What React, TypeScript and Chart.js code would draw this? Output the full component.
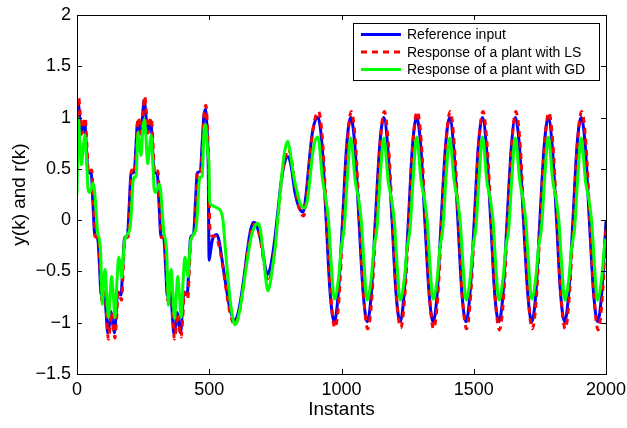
import React, { useEffect, useRef } from 'react';
import { Chart, registerables } from 'chart.js';

Chart.register(...registerables);

// ---------- data ----------
const xTicks = [0, 500, 1000, 1500, 2000];
const yTicks = [-1.5, -1, -0.5, 0, 0.5, 1, 1.5, 2];
const legendLabels = ['Reference input', 'Response of a plant with LS', 'Response of a plant with GD'];
const xTitle = 'Instants';
const yTitle = 'y(k) and r(k)';

// Reference input r(k)  [instant, value]
const refPoints: [number, number][] = [
  [0, 1.05], [4, 1.15], [10.3, 1.01], [16.5, 0.84], [22.8, 0.91], [29, 0.96], [35.3, 0.72], [41.5, 0.47], [47.8, 0.46], [54, 0.45],
  [60.3, 0.16], [66.5, -0.13], [72.8, -0.16], [79, -0.19], [85.3, -0.46], [91.5, -0.73], [97.8, -0.72], [104, -0.7], [110.3, -0.91], [116.5, -1.1],
  [122.8, -1.01], [129, -0.89], [135.3, -1.01], [141.5, -1.1], [147.8, -0.91], [154, -0.7], [160.3, -0.72], [166.5, -0.73], [172.8, -0.46], [179, -0.19],
  [185.3, -0.16], [191.5, -0.13], [197.8, 0.16], [204, 0.45], [210.3, 0.46], [216.5, 0.47], [222.8, 0.72], [229, 0.96], [235.3, 0.91], [241.5, 0.84],
  [247.8, 1.01], [254, 1.17], [260.3, 1.03], [266.5, 0.85], [272.8, 0.92], [279, 0.97], [285.3, 0.72], [291.5, 0.47], [297.8, 0.46], [304, 0.44],
  [310.3, 0.15], [316.5, -0.14], [322.8, -0.16], [329, -0.19], [335.3, -0.47], [341.5, -0.74], [347.8, -0.72], [354, -0.7], [360.3, -0.92], [366.5, -1.11],
  [372.8, -1.02], [379, -0.9], [385.3, -1.02], [391.5, -1.1], [397.8, -0.91], [404, -0.7], [410.3, -0.72], [416.5, -0.73], [422.8, -0.46], [429, -0.18],
  [435.3, -0.15], [441.5, -0.12], [447.8, 0.17], [454, 0.45], [460.3, 0.47], [466.5, 0.48], [472.8, 0.73], [479, 1.0], [485.3, 1.08], [491.5, 0.9],
  [496, 0.55], [499.5, -0.39], [505, -0.3], [512, -0.19], [520, -0.15], [528, -0.14], [537, -0.2], [548, -0.38], [562, -0.62], [576, -0.84],
  [588, -0.95], [596, -0.98], [604, -0.95], [616, -0.82], [630, -0.58], [644, -0.3], [656, -0.1], [668, -0.02], [678, -0.04], [690, -0.15],
  [700, -0.26], [711, -0.45], [721, -0.53], [732, -0.45], [748, -0.18], [760, 0.1], [772, 0.38], [786, 0.57], [798, 0.62], [810, 0.52],
  [824, 0.27], [840, 0.12], [855, 0.08], [866, 0.25], [876, 0.52], [887, 0.8], [898, 0.95],
  [911, 1.0], [927, 0.71], [942, 0.0], [957, -0.71], [973, -0.99], [988, -0.71], [1004, 0.0], [1019, 0.71],
  [1035, 1.0], [1051, 0.71], [1066, 0.0], [1082, -0.71], [1097, -0.99], [1113, -0.71], [1128, 0.0], [1144, 0.71],
  [1160, 1.0], [1175, 0.71], [1191, 0.0], [1206, -0.71], [1222, -0.99], [1237, -0.71], [1253, 0.0], [1268, 0.71],
  [1284, 1.0], [1300, 0.71], [1315, 0.0], [1331, -0.71], [1346, -0.99], [1362, -0.71], [1377, 0.0], [1393, 0.71],
  [1409, 1.0], [1424, 0.71], [1440, 0.0], [1455, -0.71], [1471, -0.99], [1486, -0.71], [1502, 0.0], [1517, 0.71],
  [1533, 1.0], [1548, 0.71], [1564, 0.0], [1579, -0.71], [1595, -0.99], [1611, -0.71], [1626, 0.0], [1642, 0.71],
  [1657, 1.0], [1673, 0.71], [1688, 0.0], [1704, -0.71], [1719, -0.99], [1735, -0.71], [1750, 0.0], [1766, 0.71],
  [1782, 1.0], [1797, 0.71], [1813, 0.0], [1828, -0.71], [1844, -0.99], [1859, -0.71], [1875, 0.0], [1890, 0.71],
  [1906, 1.0], [1922, 0.71], [1937, 0.0], [1953, -0.71], [1968, -0.99], [1984, -0.71], [2000, -0.01],
];

// Response of a plant with LS  [instant, value]
const lsPoints: [number, number][] = [
  [0, 1.0], [6, 1.2], [12.3, 1.03], [18.5, 0.84], [24.8, 0.95], [31, 1.0], [37.3, 0.74], [43.5, 0.46], [49.8, 0.48], [56, 0.49],
  [62.3, 0.16], [68.5, -0.16], [74.8, -0.17], [81, -0.17], [87.3, -0.48], [93.5, -0.78], [99.8, -0.75], [106, -0.7], [112.3, -0.95], [118.5, -1.16],
  [124.8, -1.05], [131, -0.9], [137.3, -1.05], [143.5, -1.15], [149.8, -0.95], [156, -0.7], [162.3, -0.75], [168.5, -0.78], [174.8, -0.48], [181, -0.17],
  [187.3, -0.17], [193.5, -0.16], [199.8, 0.16], [206, 0.49], [212.3, 0.48], [218.5, 0.46], [224.8, 0.74], [231, 1.0], [237.3, 0.95], [243.5, 0.84],
  [249.8, 1.04], [256, 1.21], [262.3, 1.05], [268.5, 0.85], [274.8, 0.96], [281, 1.0], [287.3, 0.75], [293.5, 0.46], [299.8, 0.48], [306, 0.48],
  [312.3, 0.15], [318.5, -0.17], [324.8, -0.17], [331, -0.17], [337.3, -0.49], [343.5, -0.79], [349.8, -0.75], [356, -0.7], [362.3, -0.96], [368.5, -1.16],
  [374.8, -1.05], [381, -0.91], [387.3, -1.05], [393.5, -1.14], [399.8, -0.95], [406, -0.7], [412.3, -0.75], [418.5, -0.77], [424.8, -0.48], [431, -0.16],
  [437.3, -0.16], [443.5, -0.14], [449.8, 0.17], [456, 0.49], [462.3, 0.49], [468.5, 0.48], [474.8, 0.76], [481, 1.04], [487.3, 1.12], [493.5, 0.88],
  [498, 0.45], [502, -0.05], [507, -0.14], [515, -0.16], [525, -0.16], [536, -0.24], [550, -0.43], [564, -0.68], [578, -0.9], [590, -1.0],
  [598, -1.02], [606, -0.98], [618, -0.84], [632, -0.58], [646, -0.3], [658, -0.12], [670, -0.04], [680, -0.05], [692, -0.17], [704, -0.37],
  [715, -0.54], [723, -0.6], [734, -0.52], [750, -0.22], [762, 0.08], [774, 0.4], [788, 0.62], [800, 0.69], [812, 0.57], [826, 0.3],
  [842, 0.1], [857, 0.04], [868, 0.22], [878, 0.52], [889, 0.82], [900, 0.99],
  [913, 1.06], [929, 0.75], [944, 0.0], [960, -0.75], [975, -1.05], [991, -0.75], [1006, 0.0], [1022, 0.75],
  [1037, 1.06], [1053, 0.75], [1068, 0.0], [1084, -0.75], [1099, -1.06], [1115, -0.75], [1130, 0.0], [1146, 0.75],
  [1162, 1.06], [1177, 0.75], [1193, 0.0], [1208, -0.75], [1224, -1.05], [1239, -0.75], [1255, 0.0], [1270, 0.75],
  [1286, 1.06], [1302, 0.75], [1317, 0.0], [1333, -0.75], [1348, -1.06], [1364, -0.75], [1379, 0.0], [1395, 0.75],
  [1411, 1.06], [1426, 0.75], [1442, 0.0], [1457, -0.75], [1473, -1.06], [1488, -0.75], [1504, 0.0], [1519, 0.75],
  [1535, 1.06], [1550, 0.75], [1566, 0.0], [1581, -0.75], [1597, -1.07], [1613, -0.75], [1628, 0.0], [1644, 0.75],
  [1659, 1.06], [1675, 0.75], [1690, 0.0], [1706, -0.75], [1721, -1.06], [1737, -0.75], [1752, 0.0], [1768, 0.75],
  [1784, 1.05], [1799, 0.75], [1815, 0.0], [1830, -0.75], [1846, -1.06], [1861, -0.75], [1877, 0.0], [1892, 0.75],
  [1908, 1.06], [1924, 0.75], [1939, 0.0], [1955, -0.75], [1970, -1.07], [1986, -0.75], [2000, -0.05],
];

// Response of a plant with GD  [instant, value]
const gdPoints: [number, number][] = [
  [0, 0.25], [5, 0.99], [11, 0.75], [17, 0.54], [24, 0.72], [30, 0.83], [36, 0.6], [42, 0.3], [48, 0.27], [54, 0.3],
  [60, 0.36], [66, 0.3], [72, 0.1], [78, -0.12], [84, -0.18], [89, -0.3], [96, -0.82], [101, -0.6], [106, -0.48], [112, -0.7],
  [119, -0.95], [125, -0.75], [131, -0.55], [137, -0.72], [144, -0.95], [151, -0.6], [158, -0.36], [164, -0.45], [169, -0.56], [174, -0.4],
  [179, -0.22], [186, -0.16], [192, -0.13], [200, -0.08], [206, 0.1], [212, 0.38], [218, 0.42], [223, 0.42], [231, 0.86], [236, 0.75],
  [242, 0.63], [248, 0.85], [255, 0.98], [261, 0.8], [267, 0.55], [274, 0.7], [280, 0.83], [286, 0.6], [292, 0.3], [298, 0.27],
  [304, 0.3], [310, 0.35], [316, 0.3], [322, 0.1], [328, -0.12], [334, -0.19], [339, -0.3], [346, -0.83], [351, -0.6], [356, -0.48],
  [362, -0.7], [369, -0.96], [375, -0.75], [381, -0.55], [387, -0.72], [394, -0.95], [401, -0.6], [408, -0.36], [414, -0.45], [419, -0.55],
  [424, -0.4], [429, -0.22], [436, -0.16], [442, -0.13], [450, -0.08], [456, 0.1], [462, 0.38], [468, 0.42], [473, 0.43], [481, 0.9],
  [486, 0.93], [491, 0.78], [496, 0.62], [499, 0.55], [501, 0.2], [507, 0.15], [520, 0.13], [535, 0.11], [545, 0.08], [552, 0.0],
  [560, -0.25], [570, -0.55], [580, -0.8], [590, -0.97], [598, -1.02], [606, -0.98], [618, -0.84], [632, -0.6], [646, -0.35], [660, -0.15],
  [672, -0.06], [684, -0.03], [694, -0.1], [705, -0.35], [714, -0.58], [722, -0.69], [730, -0.62], [740, -0.45], [750, -0.25], [760, 0.05],
  [770, 0.32], [780, 0.58], [789, 0.72], [797, 0.77], [806, 0.66], [818, 0.45], [830, 0.3], [843, 0.17], [860, 0.12], [870, 0.18],
  [880, 0.38], [890, 0.63], [900, 0.77],
  [911, 0.81], [928, 0.4], [941, 0.2], [951, 0.0], [961, -0.42], [973, -0.77], [989, -0.56], [999, -0.27], [1010, -0.08], [1023, 0.45],
  [1035, 0.8], [1052, 0.38], [1065, 0.2], [1075, -0.01], [1085, -0.42], [1097, -0.78], [1113, -0.55], [1123, -0.26], [1134, -0.08], [1147, 0.45],
  [1160, 0.8], [1177, 0.37], [1190, 0.19], [1200, -0.02], [1210, -0.43], [1222, -0.78], [1238, -0.56], [1248, -0.27], [1259, -0.09], [1272, 0.45],
  [1284, 0.81], [1301, 0.38], [1314, 0.2], [1324, -0.01], [1334, -0.42], [1346, -0.77], [1362, -0.56], [1372, -0.27], [1383, -0.08], [1396, 0.45],
  [1409, 0.8], [1426, 0.38], [1439, 0.19], [1449, -0.02], [1459, -0.42], [1471, -0.78], [1487, -0.55], [1497, -0.26], [1508, -0.08], [1521, 0.45],
  [1533, 0.81], [1550, 0.37], [1563, 0.2], [1573, -0.01], [1583, -0.43], [1595, -0.78], [1611, -0.56], [1621, -0.27], [1632, -0.09], [1645, 0.45],
  [1657, 0.8], [1674, 0.38], [1687, 0.19], [1697, -0.02], [1707, -0.42], [1719, -0.77], [1735, -0.55], [1745, -0.26], [1756, -0.08], [1769, 0.45],
  [1782, 0.81], [1799, 0.38], [1812, 0.2], [1822, -0.01], [1832, -0.42], [1844, -0.78], [1860, -0.56], [1870, -0.27], [1881, -0.09], [1894, 0.45],
  [1906, 0.8], [1923, 0.37], [1936, 0.19], [1946, -0.02], [1956, -0.43], [1968, -0.78], [1984, -0.55], [1994, -0.26], [2000, -0.18],
];

const seriesColors = ['#0000ff', '#ff0000', '#00ff00'];

// ---------- drawing ----------
const FONT = '"Liberation Sans", Arial, Helvetica, sans-serif';

const fmt = (v: number) => (v < 0 ? '\u2212' + String(Math.abs(v)) : String(v));
const toXY = (pts: [number, number][]) => pts.map(([x, y]) => ({ x, y }));

const framePlugin = {
  id: 'matlabFrame',
  afterDraw(chart: any) {
    const { ctx, chartArea: a, scales } = chart;
    ctx.save();
    // box
    ctx.strokeStyle = '#000';
    ctx.lineWidth = 1;
    ctx.setLineDash([]);
    ctx.strokeRect(Math.round(a.left) + 0.5, Math.round(a.top) + 0.5, Math.round(a.right - a.left), Math.round(a.bottom - a.top));
    // inward ticks on all sides
    const tl = 5;
    ctx.beginPath();
    xTicks.forEach((v) => {
      const px = Math.round(scales.x.getPixelForValue(v)) + 0.5;
      ctx.moveTo(px, a.bottom); ctx.lineTo(px, a.bottom - tl);
      ctx.moveTo(px, a.top); ctx.lineTo(px, a.top + tl);
    });
    yTicks.forEach((v) => {
      const py = Math.round(scales.y.getPixelForValue(v)) + 0.5;
      ctx.moveTo(a.left, py); ctx.lineTo(a.left + tl, py);
      ctx.moveTo(a.right, py); ctx.lineTo(a.right - tl, py);
    });
    ctx.stroke();

    // legend box (top-right, inside axes)
    const lw = 246, lh = 57;
    const lx = Math.round(a.right - 7 - lw), ly = Math.round(a.top + 8);
    ctx.fillStyle = '#fff';
    ctx.fillRect(lx, ly, lw, lh);
    ctx.strokeStyle = '#000';
    ctx.lineWidth = 1;
    ctx.strokeRect(lx + 0.5, ly + 0.5, lw, lh);
    ctx.font = `14px ${FONT}`;
    ctx.textBaseline = 'middle';
    ctx.textAlign = 'left';
    legendLabels.forEach((label, i) => {
      const yy = ly + 11.5 + i * 17.5;
      ctx.beginPath();
      ctx.strokeStyle = seriesColors[i];
      ctx.lineWidth = 3;
      ctx.setLineDash(i === 1 ? [6, 5] : []);
      ctx.moveTo(lx + 8, yy);
      ctx.lineTo(lx + 48, yy);
      ctx.stroke();
      ctx.setLineDash([]);
      ctx.fillStyle = '#000';
      ctx.fillText(label, lx + 54, yy + 1);
    });

    // axis titles
    ctx.fillStyle = '#000';
    ctx.font = `19px ${FONT}`;
    ctx.textAlign = 'center';
    ctx.textBaseline = 'middle';
    ctx.fillText(xTitle, (a.left + a.right) / 2, 410);
    ctx.save();
    ctx.translate(20, (a.top + a.bottom) / 2);
    ctx.rotate(-Math.PI / 2);
    ctx.fillText(yTitle, 0, 0);
    ctx.restore();

    ctx.restore();
  },
};

export default function App() {
  const canvasRef = useRef<HTMLCanvasElement | null>(null);

  useEffect(() => {
    document.body.style.margin = '0';
    const canvas = canvasRef.current;
    if (!canvas) return;
    const tickFont = { family: FONT, size: 18 };
    const chart = new Chart(canvas, {
      type: 'line',
      data: {
        datasets: [
          { label: legendLabels[2], data: toXY(gdPoints), borderColor: seriesColors[2], borderWidth: 3, order: 1 },
          { label: legendLabels[1], data: toXY(lsPoints), borderColor: seriesColors[1], borderWidth: 3, borderDash: [6, 5], order: 2 },
          { label: legendLabels[0], data: toXY(refPoints), borderColor: seriesColors[0], borderWidth: 3, order: 3 },
        ],
      },
      options: {
        responsive: false,
        animation: false,
        devicePixelRatio: 1,
        elements: {
          point: { radius: 0 },
          line: { cubicInterpolationMode: 'monotone', borderJoinStyle: 'round', fill: false },
        },
        layout: { padding: { top: 15, right: 21, left: 0, bottom: 0 } },
        plugins: { legend: { display: false }, tooltip: { enabled: false } },
        scales: {
          x: {
            type: 'linear',
            min: 0,
            max: 2000,
            afterBuildTicks: (s: any) => { s.ticks = xTicks.map((v) => ({ value: v })); },
            afterFit: (s: any) => { s.height = 54; s.paddingLeft = 0; s.paddingRight = 0; },
            grid: { display: false, drawTicks: false },
            border: { display: false },
            ticks: { font: tickFont, color: '#000', padding: 5, maxRotation: 0, autoSkip: false, callback: (v: any) => fmt(Number(v)) },
          },
          y: {
            type: 'linear',
            min: -1.5,
            max: 2,
            afterBuildTicks: (s: any) => { s.ticks = yTicks.map((v) => ({ value: v })); },
            afterFit: (s: any) => { s.width = 77; s.paddingTop = 0; s.paddingBottom = 0; },
            grid: { display: false, drawTicks: false },
            border: { display: false },
            ticks: { font: tickFont, color: '#000', padding: 6, autoSkip: false, callback: (v: any) => fmt(Number(v)) },
          },
        },
      } as any,
      plugins: [framePlugin],
    });
    return () => chart.destroy();
  }, []);

  return (
    <div style={{ width: 627, height: 428, background: '#fff' }}>
      <canvas ref={canvasRef} width={627} height={428} style={{ display: 'block' }} />
    </div>
  );
}
